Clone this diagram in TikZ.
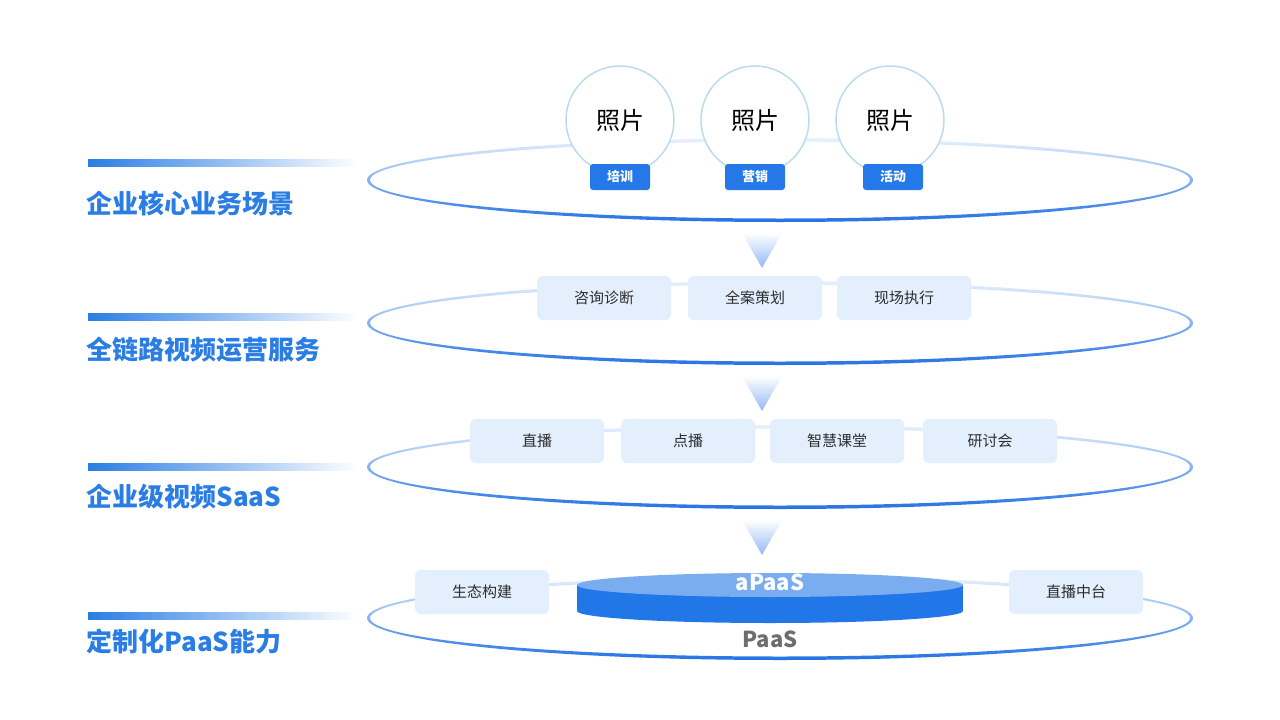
\documentclass[tikz,border=0pt]{standalone}
\usepackage{fontspec}
\setmainfont{Noto Sans CJK SC}
\usetikzlibrary{positioning,calc}
\definecolor{brand}{RGB}{36,120,232}
\definecolor{ttl}{RGB}{42,125,228}
\definecolor{pale}{RGB}{227,239,252}
\definecolor{ringlo}{RGB}{36,114,228}
\definecolor{ringhi}{RGB}{232,242,253}
\definecolor{halo}{RGB}{186,220,238}
\definecolor{txt}{RGB}{45,45,45}
\definecolor{capTop}{RGB}{122,172,240}
\definecolor{capSide}{RGB}{33,118,232}
\definecolor{tri}{RGB}{146,184,244}
\definecolor{greytxt}{RGB}{110,110,110}
\tikzset{
  tag/.style={rectangle,rounded corners=6pt,fill=pale,minimum width=134pt,
    minimum height=44pt,font=\fontsize{15}{18}\selectfont,text=txt},
  badge/.style={rectangle,rounded corners=3pt,fill=brand,minimum width=60pt,
    minimum height=26pt,font=\fontsize{13}{15}\selectfont\bfseries,text=white},
  photo/.style={circle,draw=halo,line width=1.5pt,fill=white,minimum size=108pt,
    font=\fontsize{24}{28}\selectfont,text=black},
  title/.style={anchor=west,font=\fontsize{26}{30}\selectfont\bfseries,text=ttl},
  bar/.style={left color=ttl,middle color=ttl!75,right color=white},
  ring/.style={even odd rule,top color=ringhi,middle color=ringlo!55!ringhi,bottom color=ringlo},
  drop/.style={top color=white,bottom color=tri},
  layer/.style={font=\fontsize{22}{26}\selectfont\bfseries},
}

\begin{document}
\begin{tikzpicture}[x=1pt,y=-1pt]
  \useasboundingbox[fill=white] (0,0) rectangle (1280,720);

  % rings
  \foreach \y in {180,323,467,618}
    \shade[ring] (780,\y) ellipse (413 and 42) (780,\y) ellipse (410 and 38.5);

  % left side titles
  \foreach \y in {163,317,467,616}
    \shade[bar] (88,\y-3.5) rectangle (358,\y+3.5);
  \node[title] (t1) at (83,203) {企业核心业务场景};
  \node[title] (t2) at (83,350) {全链路视频运营服务};
  \node[title] (t3) at (83,497) {企业级视频SaaS};
  \node[title] (t4) at (83,642) {定制化PaaS能力};

  % down markers
  \foreach \y in {233,376,520}
    \shade[drop] (742,\y) -- (782,\y) -- (762,\y+35) -- cycle;

  % row: business scenes
  \node[photo] (p1) at (620,120) {照片};
  \node[photo] (p2) at (755,120) {照片};
  \node[photo] (p3) at (890,120) {照片};
  \node[badge] (b1) at (620,177) {培训};
  \node[badge] (b2) at (755,177) {营销};
  \node[badge] (b3) at (893,177) {活动};

  % row: operation services
  \node[tag] (s1) at (604,298) {咨询诊断};
  \node[tag] (s2) at (755,298) {全案策划};
  \node[tag] (s3) at (904,298) {现场执行};

  % row: SaaS products
  \node[tag] (v1) at (537,441) {直播};
  \node[tag] (v2) at (688,441) {点播};
  \node[tag] (v3) at (837,441) {智慧课堂};
  \node[tag] (v4) at (990,441) {研讨会};

  % row: PaaS
  \node[tag] (c1) at (482,592) {生态构建};
  \node[tag] (c2) at (1076,592) {直播中台};
  \fill[capSide] (577,585) rectangle (963,611);
  \fill[capSide] (770,611) ellipse (193 and 12);
  \fill[capTop] (770,585) ellipse (193 and 12);
  \node[layer,text=white] (ap) at (770,582) {aPaaS};
  \node[layer,text=greytxt] (pa) at (770,639) {PaaS};
\end{tikzpicture}
\end{document}
